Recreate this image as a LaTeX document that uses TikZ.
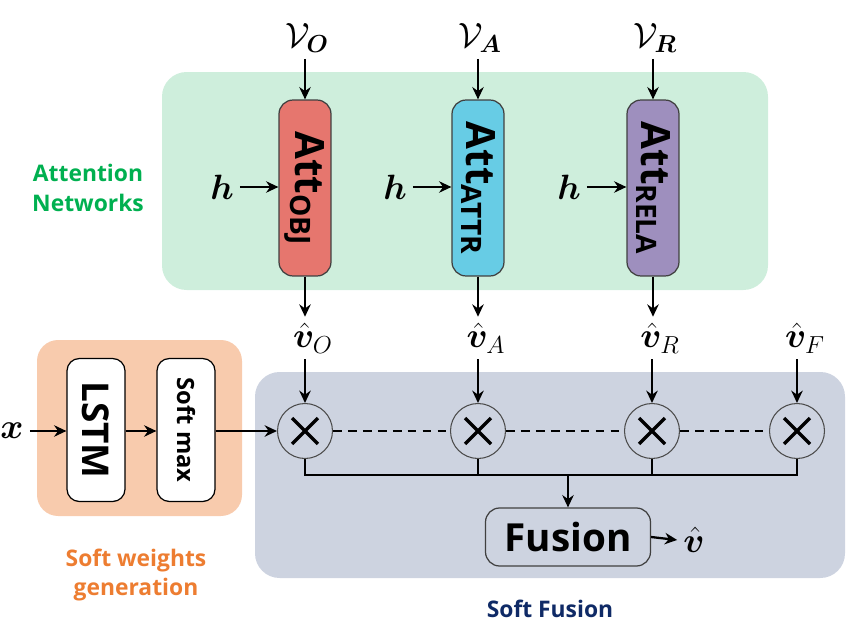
\RequirePackage{fix-cm}
\documentclass[tikz,border=0pt]{standalone}
\usepackage{fontspec}
\setmainfont{Open Sans}
\usepackage{amsmath,amssymb,bm}
\usepackage{tikz}
\usetikzlibrary{positioning}
\usetikzlibrary{arrows.meta}

\definecolor{attpanel}{HTML}{CEEEDC}
\definecolor{fuspanel}{HTML}{CDD3E0}
\definecolor{swpanel}{HTML}{F8CBAD}
\definecolor{attred}{HTML}{E6766E}
\definecolor{attblue}{HTML}{67CCE5}
\definecolor{attpurple}{HTML}{9E8FBE}
\definecolor{lblgreen}{HTML}{00B050}
\definecolor{lblorange}{HTML}{ED7D31}
\definecolor{lblnavy}{HTML}{0F2A66}

\tikzset{
  arr/.style={line width=1.3pt, -{Stealth[length=7pt,width=6.5pt]}},
  wire/.style={line width=1.3pt},
  attbox/.style={draw=black!75, line width=0.7pt, rounded corners=8pt,
    minimum width=1.04cm, minimum height=3.52cm},
  attlbl/.style={rotate=-90, font=\fontsize{23}{23}\selectfont\bfseries},
  swbox/.style={draw=black, line width=0.7pt, fill=white, rounded corners=7pt,
    minimum width=1.16cm, minimum height=2.86cm},
  mult/.style={circle, draw=black!70, line width=0.6pt, minimum size=1.1cm,
    path picture={\draw[black, line width=2pt]
      ([shift={(-0.26cm,-0.26cm)}]path picture bounding box.center) --
      ([shift={(0.26cm,0.26cm)}]path picture bounding box.center)
      ([shift={(-0.26cm,0.26cm)}]path picture bounding box.center) --
      ([shift={(0.26cm,-0.26cm)}]path picture bounding box.center);}},
  fusbox/.style={draw=black!75, line width=0.7pt, rounded corners=8pt,
    minimum width=3.3cm, minimum height=1.16cm,
    font=\fontsize{22}{22}\selectfont\bfseries},
  mathlbl/.style={font=\fontsize{20}{20}\selectfont},
  grouplbl/.style={font=\fontsize{13}{17}\selectfont\bfseries, align=center},
}

\begin{document}
\begin{tikzpicture}[x=0.02cm, y=-0.02cm]
  \useasboundingbox (0,0) rectangle (846,639);

  % panels
  \fill[attpanel, rounded corners=14pt] (162,72) rectangle (768,290);
  \fill[swpanel, rounded corners=12pt] (37,340) rectangle (242,516);
  \fill[fuspanel, rounded corners=14pt] (255,372) rectangle (845,578);

  % attention networks
  \node[attbox, fill=attred] (attO) at (305,188) {};
  \node[attbox, fill=attblue] (attA) at (478,188) {};
  \node[attbox, fill=attpurple] (attR) at (653,188) {};
  \node[attlbl] (attOtxt) at (attO) {Att\raisebox{-0.1cm}{\fontsize{16}{16}\selectfont OBJ}};
  \node[attlbl] (attAtxt) at (attA) {Att\raisebox{-0.1cm}{\fontsize{16}{16}\selectfont ATTR}};
  \node[attlbl] (attRtxt) at (attR) {Att\raisebox{-0.1cm}{\fontsize{16}{16}\selectfont RELA}};

  \node[mathlbl] (VO) at (307,38) {$\mathcal{V}_{\bm{O}}$};
  \node[mathlbl] (VA) at (480,38) {$\mathcal{V}_{\bm{A}}$};
  \node[mathlbl] (VR) at (655,38) {$\mathcal{V}_{\bm{R}}$};
  \draw[arr] (attO |- VO.south) -- (attO.north);
  \draw[arr] (attA |- VA.south) -- (attA.north);
  \draw[arr] (attR |- VR.south) -- (attR.north);

  \node[mathlbl] (hO) at (222,187) {$\bm{h}$};
  \node[mathlbl] (hA) at (395,187) {$\bm{h}$};
  \node[mathlbl] (hR) at (569,187) {$\bm{h}$};
  \draw[arr] (hO.east) -- (attO.west |- hO.east);
  \draw[arr] (hA.east) -- (attA.west |- hA.east);
  \draw[arr] (hR.east) -- (attR.west |- hR.east);

  \node[grouplbl, text=lblgreen] (attlabel) at (88,188) {Attention\\Networks};

  % weighted features
  \node[mathlbl] (vO) at (313,338) {$\hat{\bm{v}}_{O}$};
  \node[mathlbl] (vA) at (486,338) {$\hat{\bm{v}}_{A}$};
  \node[mathlbl] (vR) at (660,338) {$\hat{\bm{v}}_{R}$};
  \node[mathlbl] (vF) at (805,338) {$\hat{\bm{v}}_{F}$};
  \draw[arr] (attO.south) -- (attO.south |- vO.north);
  \draw[arr] (attA.south) -- (attA.south |- vA.north);
  \draw[arr] (attR.south) -- (attR.south |- vR.north);

  % soft weights generation
  \node[mathlbl] (xin) at (12,431) {$\bm{x}$};
  \node[swbox] (lstm) at (96,430) {};
  \node[swbox] (smax) at (186,430) {};
  \node[rotate=-90, font=\fontsize{21}{21}\selectfont\bfseries] (lstmtxt) at (lstm) {LSTM};
  \node[rotate=-90, font=\fontsize{13.5}{13.5}\selectfont\bfseries] (smaxtxt) at (smax) {Soft max};
  \draw[arr] (xin.east) -- (lstm.west |- xin.east);
  \draw[arr] (lstm.east |- xin.east) -- (smax.west |- xin.east);
  \node[grouplbl, text=lblorange] (swlabel) at (136,575) {Soft weights\\generation};

  % soft fusion
  \node[mult] (m1) at (305,431) {};
  \node[mult] (m2) at (478,431) {};
  \node[mult] (m3) at (652,431) {};
  \node[mult] (m4) at (797,431) {};
  \draw[arr] (smax.east |- m1) -- (m1.west);
  \draw[arr] (m1 |- vO.south) -- (m1.north);
  \draw[arr] (m2 |- vA.south) -- (m2.north);
  \draw[arr] (m3 |- vR.south) -- (m3.north);
  \draw[arr] (m4 |- vF.south) -- (m4.north);
  \draw[line width=1.2pt, dash pattern=on 5pt off 3.5pt] (m1.east) -- (m2.west);
  \draw[line width=1.2pt, dash pattern=on 5pt off 3.5pt] (m2.east) -- (m3.west);
  \draw[line width=1.2pt, dash pattern=on 5pt off 3.5pt] (m3.east) -- (m4.west);

  \node[fusbox] (fus) at (568,537) {Fusion};
  \coordinate (bus) at (568,475);
  \draw[wire] (m1.south) |- (m4.south |- bus) -- (m4.south);
  \draw[wire] (m2.south) -- (m2.south |- bus);
  \draw[wire] (m3.south) -- (m3.south |- bus);
  \draw[arr] (bus) -- (fus.north);

  \node[mathlbl] (vout) at (694,540) {$\hat{\bm{v}}$};
  \draw[arr] (fus.east) -- (vout.west);

  \node[grouplbl, text=lblnavy] (fuslabel) at (550,609) {Soft Fusion};
\end{tikzpicture}
\end{document}
